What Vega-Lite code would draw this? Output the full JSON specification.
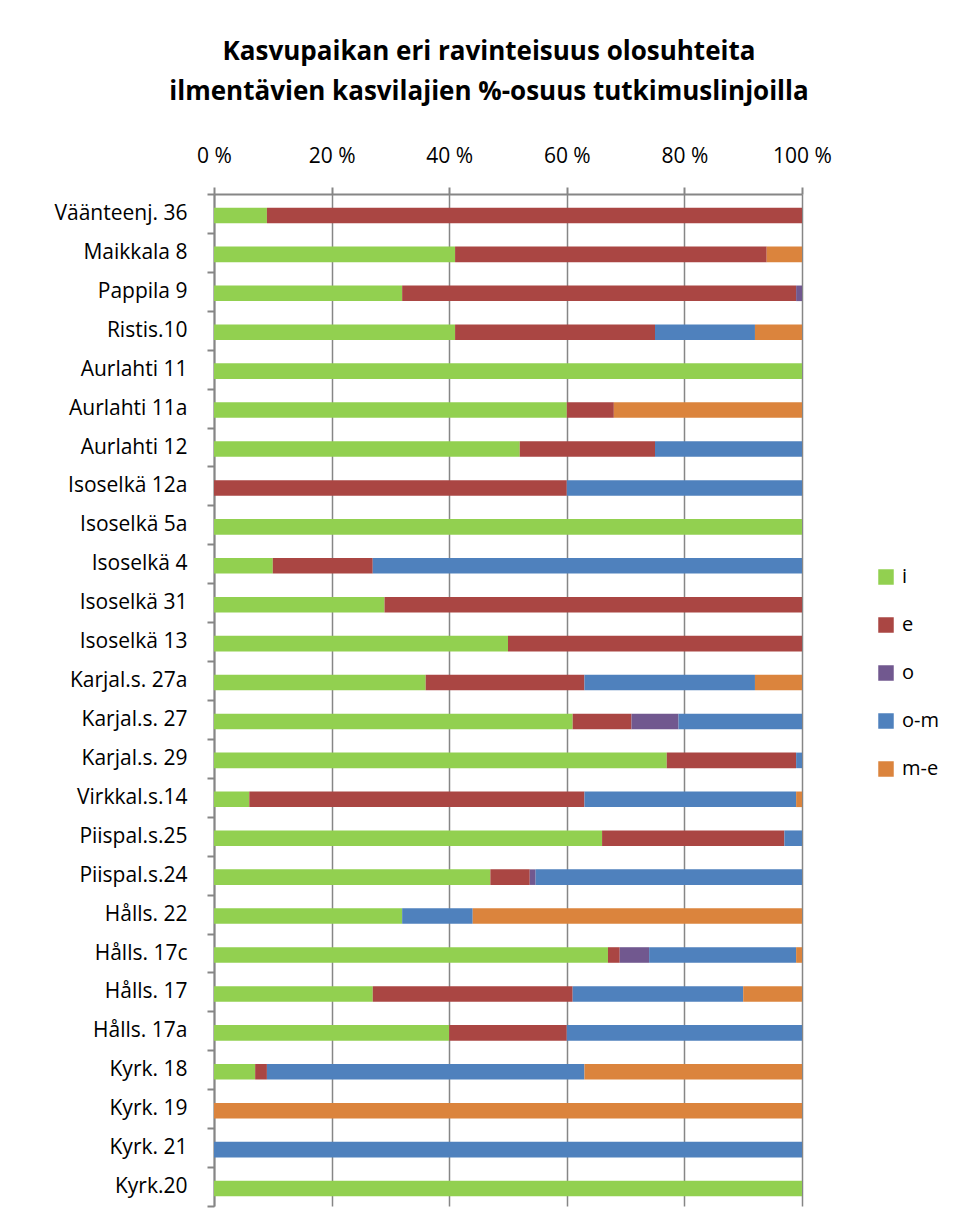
{
  "$schema": "https://vega.github.io/schema/vega-lite/v6.json",
  "autosize": "none",
  "width": 588,
  "height": 1012,
  "padding": {"left": 214, "top": 194, "right": 158, "bottom": 25},
  "background": "white",
  "title": {
    "text": ["Kasvupaikan eri ravinteisuus olosuhteita", "ilmentävien kasvilajien %-osuus tutkimuslinjoilla"],
    "font": "Open Sans",
    "fontSize": 26,
    "fontWeight": "bold",
    "color": "black",
    "lineHeight": 40,
    "anchor": "middle",
    "dx": -19,
    "offset": 40
  },
  "data": {
    "values": [
      {"line": "Väänteenj. 36", "sp": "i", "pct": 9},
      {"line": "Väänteenj. 36", "sp": "e", "pct": 91},
      {"line": "Maikkala 8", "sp": "i", "pct": 41},
      {"line": "Maikkala 8", "sp": "e", "pct": 53},
      {"line": "Maikkala 8", "sp": "m-e", "pct": 6},
      {"line": "Pappila 9", "sp": "i", "pct": 32},
      {"line": "Pappila 9", "sp": "e", "pct": 67},
      {"line": "Pappila 9", "sp": "o", "pct": 1},
      {"line": "Ristis.10", "sp": "i", "pct": 41},
      {"line": "Ristis.10", "sp": "e", "pct": 34},
      {"line": "Ristis.10", "sp": "o-m", "pct": 17},
      {"line": "Ristis.10", "sp": "m-e", "pct": 8},
      {"line": "Aurlahti 11", "sp": "i", "pct": 100},
      {"line": "Aurlahti 11a", "sp": "i", "pct": 60},
      {"line": "Aurlahti 11a", "sp": "e", "pct": 8},
      {"line": "Aurlahti 11a", "sp": "m-e", "pct": 32},
      {"line": "Aurlahti 12", "sp": "i", "pct": 52},
      {"line": "Aurlahti 12", "sp": "e", "pct": 23},
      {"line": "Aurlahti 12", "sp": "o-m", "pct": 25},
      {"line": "Isoselkä 12a", "sp": "e", "pct": 60},
      {"line": "Isoselkä 12a", "sp": "o-m", "pct": 40},
      {"line": "Isoselkä 5a", "sp": "i", "pct": 100},
      {"line": "Isoselkä 4", "sp": "i", "pct": 10},
      {"line": "Isoselkä 4", "sp": "e", "pct": 17},
      {"line": "Isoselkä 4", "sp": "o-m", "pct": 73},
      {"line": "Isoselkä 31", "sp": "i", "pct": 29},
      {"line": "Isoselkä 31", "sp": "e", "pct": 71},
      {"line": "Isoselkä 13", "sp": "i", "pct": 50},
      {"line": "Isoselkä 13", "sp": "e", "pct": 50},
      {"line": "Karjal.s. 27a", "sp": "i", "pct": 36},
      {"line": "Karjal.s. 27a", "sp": "e", "pct": 27},
      {"line": "Karjal.s. 27a", "sp": "o-m", "pct": 29},
      {"line": "Karjal.s. 27a", "sp": "m-e", "pct": 8},
      {"line": "Karjal.s. 27", "sp": "i", "pct": 61},
      {"line": "Karjal.s. 27", "sp": "e", "pct": 10},
      {"line": "Karjal.s. 27", "sp": "o", "pct": 8},
      {"line": "Karjal.s. 27", "sp": "o-m", "pct": 21},
      {"line": "Karjal.s. 29", "sp": "i", "pct": 77},
      {"line": "Karjal.s. 29", "sp": "e", "pct": 22},
      {"line": "Karjal.s. 29", "sp": "o-m", "pct": 1},
      {"line": "Virkkal.s.14", "sp": "i", "pct": 6},
      {"line": "Virkkal.s.14", "sp": "e", "pct": 57},
      {"line": "Virkkal.s.14", "sp": "o-m", "pct": 36},
      {"line": "Virkkal.s.14", "sp": "m-e", "pct": 1},
      {"line": "Piispal.s.25", "sp": "i", "pct": 66},
      {"line": "Piispal.s.25", "sp": "e", "pct": 31},
      {"line": "Piispal.s.25", "sp": "o-m", "pct": 3},
      {"line": "Piispal.s.24", "sp": "i", "pct": 47},
      {"line": "Piispal.s.24", "sp": "e", "pct": 6.7},
      {"line": "Piispal.s.24", "sp": "o", "pct": 1},
      {"line": "Piispal.s.24", "sp": "o-m", "pct": 45.3},
      {"line": "Hålls. 22", "sp": "i", "pct": 32},
      {"line": "Hålls. 22", "sp": "o-m", "pct": 12},
      {"line": "Hålls. 22", "sp": "m-e", "pct": 56},
      {"line": "Hålls. 17c", "sp": "i", "pct": 67},
      {"line": "Hålls. 17c", "sp": "e", "pct": 2},
      {"line": "Hålls. 17c", "sp": "o", "pct": 5},
      {"line": "Hålls. 17c", "sp": "o-m", "pct": 25},
      {"line": "Hålls. 17c", "sp": "m-e", "pct": 1},
      {"line": "Hålls. 17", "sp": "i", "pct": 27},
      {"line": "Hålls. 17", "sp": "e", "pct": 34},
      {"line": "Hålls. 17", "sp": "o-m", "pct": 29},
      {"line": "Hålls. 17", "sp": "m-e", "pct": 10},
      {"line": "Hålls. 17a", "sp": "i", "pct": 40},
      {"line": "Hålls. 17a", "sp": "e", "pct": 20},
      {"line": "Hålls. 17a", "sp": "o-m", "pct": 40},
      {"line": "Kyrk. 18", "sp": "i", "pct": 7},
      {"line": "Kyrk. 18", "sp": "e", "pct": 2},
      {"line": "Kyrk. 18", "sp": "o-m", "pct": 54},
      {"line": "Kyrk. 18", "sp": "m-e", "pct": 37},
      {"line": "Kyrk. 19", "sp": "m-e", "pct": 100},
      {"line": "Kyrk. 21", "sp": "o-m", "pct": 100},
      {"line": "Kyrk.20", "sp": "i", "pct": 100}
    ]
  },
  "transform": [
    {"calculate": "indexof(['i', 'e', 'o', 'o-m', 'm-e'], datum.sp)", "as": "stackOrder"}
  ],
  "mark": {"type": "bar", "height": {"band": 0.4}, "yOffset": 2},
  "encoding": {
    "y": {
      "field": "line",
      "type": "nominal",
      "sort": null,
      "scale": {"paddingInner": 0, "paddingOuter": 0},
      "axis": {
        "title": null,
        "labelFont": "Open Sans",
        "labelFontSize": 21,
        "labelColor": "black",
        "labelPadding": 20,
        "domainColor": "#868686",
        "domainWidth": 2,
        "tickColor": "#868686",
        "tickWidth": 2,
        "tickSize": 7,
        "tickBand": "extent",
        "grid": false
      }
    },
    "x": {
      "field": "pct",
      "type": "quantitative",
      "stack": "normalize",
      "scale": {"domain": [0, 1], "nice": false},
      "axis": {
        "orient": "top",
        "title": null,
        "values": [0, 0.2, 0.4, 0.6, 0.8, 1],
        "labelExpr": "format(datum.value * 100, 'd') + ' %'",
        "labelFont": "Open Sans",
        "labelFontSize": 21,
        "labelColor": "black",
        "labelPadding": 21,
        "labelFlush": false,
        "domainColor": "#868686",
        "domainWidth": 2,
        "tickColor": "#868686",
        "tickWidth": 2,
        "tickSize": 7,
        "grid": true,
        "gridColor": "#868686",
        "gridWidth": 1.5
      }
    },
    "color": {
      "field": "sp",
      "type": "nominal",
      "sort": ["i", "e", "o", "o-m", "m-e"],
      "scale": {
        "domain": ["i", "e", "o", "o-m", "m-e"],
        "range": ["#92D050", "#AA4643", "#71588F", "#4F81BD", "#DB843D"]
      },
      "legend": {
        "title": null,
        "orient": "none",
        "legendX": 662,
        "legendY": 373,
        "symbolType": "square",
        "symbolSize": 240,
        "symbolStrokeWidth": 0,
        "labelFont": "Open Sans",
        "labelFontSize": 20,
        "labelColor": "black",
        "labelOffset": 6,
        "rowPadding": 28,
        "padding": 0
      }
    },
    "order": {"field": "stackOrder", "type": "quantitative", "sort": "ascending"}
  },
  "config": {
    "view": {"stroke": null}
  }
}
